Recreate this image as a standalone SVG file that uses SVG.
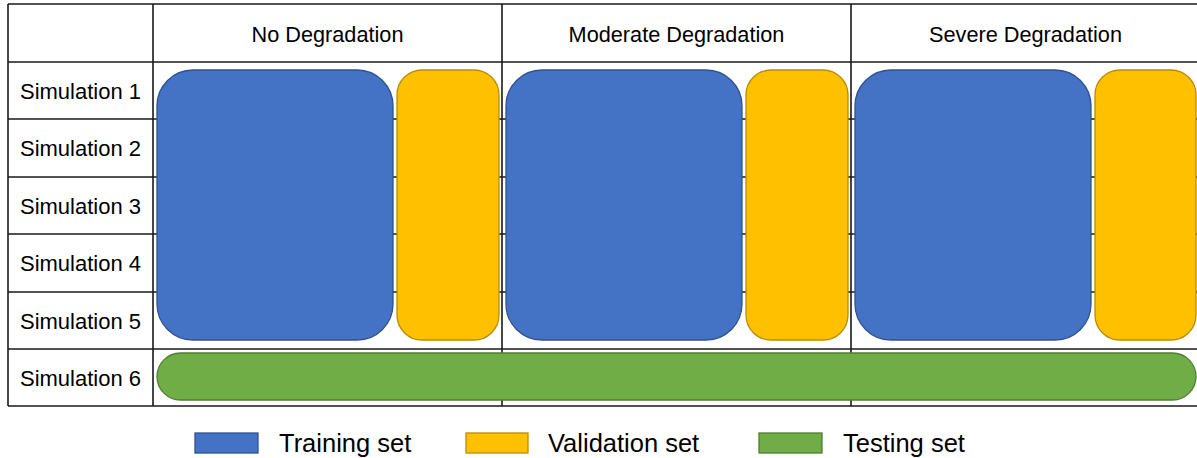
<svg xmlns="http://www.w3.org/2000/svg" width="1197" height="458" viewBox="0 0 1197 458">
<style>
.grid{stroke:#1a1a1a;stroke-width:1.6;fill:none}
.hdr{font-family:"Liberation Sans",Arial,sans-serif;font-size:21.7px;fill:#000;text-anchor:middle}
.lbl{font-family:"Liberation Sans",Arial,sans-serif;font-size:22px;fill:#000;text-anchor:middle}
.leg{font-family:"Liberation Sans",Arial,sans-serif;font-size:25.5px;fill:#000}
.train{fill:#4472C4;stroke:#2F528F;stroke-width:1.3}
.val{fill:#FFC000;stroke:#BC8C00;stroke-width:1.3}
.test{fill:#70AD47;stroke:#507E32;stroke-width:1.3}
</style>
<rect width="1197" height="458" fill="#fff"/>
<g id="table">
<path class="grid" d="M8,4 H1200 M8,62 H1200 M8,119 H1200 M8,177 H1200 M8,234 H1200 M8,292 H1200 M8,349 H1200 M8,406 H1200 M8,4 V406 M153,4 V406 M502,4 V406 M851,4 V406"/>
<text class="hdr" x="327.5" y="41.5">No Degradation</text>
<text class="hdr" x="676.5" y="41.5">Moderate Degradation</text>
<text class="hdr" x="1025.5" y="41.5">Severe Degradation</text>
<text class="lbl" x="80.5" y="98.5">Simulation 1</text>
<text class="lbl" x="80.5" y="156">Simulation 2</text>
<text class="lbl" x="80.5" y="213.5">Simulation 3</text>
<text class="lbl" x="80.5" y="271">Simulation 4</text>
<text class="lbl" x="80.5" y="328.5">Simulation 5</text>
<text class="lbl" x="80.5" y="386">Simulation 6</text>
</g>
<g id="train-no"><rect class="train" x="157" y="70" width="236" height="270" rx="36"/></g>
<g id="val-no"><rect class="val" x="397" y="70" width="102" height="270" rx="25"/></g>
<g id="train-moderate"><rect class="train" x="506" y="70" width="236" height="270" rx="36"/></g>
<g id="val-moderate"><rect class="val" x="746" y="70" width="102" height="270" rx="25"/></g>
<g id="train-severe"><rect class="train" x="855" y="70" width="236" height="270" rx="36"/></g>
<g id="val-severe"><rect class="val" x="1095" y="70" width="101" height="270" rx="25"/></g>
<g id="test"><rect class="test" x="157" y="353" width="1039" height="47" rx="23.5"/></g>
<g id="legend">
<rect class="train" x="195" y="433" width="63" height="20"/>
<text class="leg" x="279" y="452">Training set</text>
<rect class="val" x="466" y="433" width="62" height="20"/>
<text class="leg" x="548" y="452">Validation set</text>
<rect class="test" x="759" y="433" width="63" height="20"/>
<text class="leg" x="843" y="452">Testing set</text>
</g>
</svg>
